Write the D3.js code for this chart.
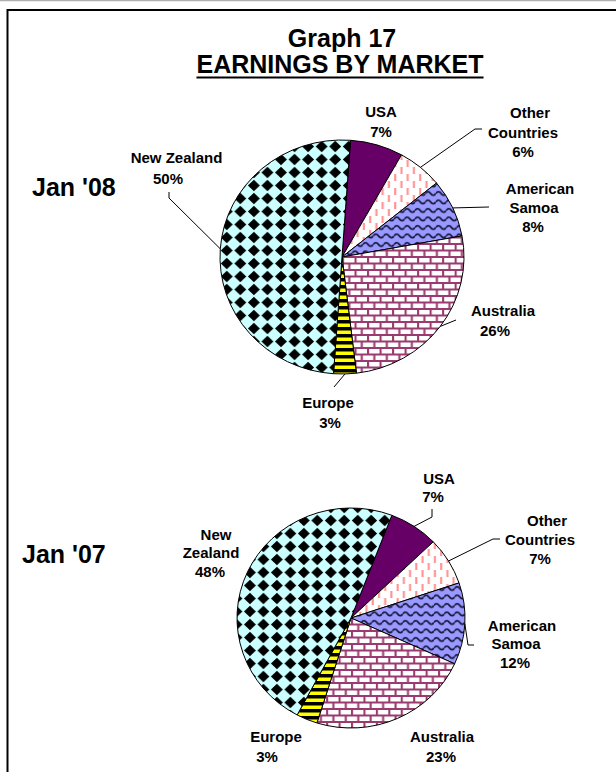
<!DOCTYPE html>
<html>
<head>
<meta charset="utf-8">
<script src="https://cdn.jsdelivr.net/npm/d3@7"></script>
<style>
  html, body { margin: 0; padding: 0; background: #fff; }
  svg { display: block; font-family: "Liberation Sans", Arial, sans-serif; }
  .lbl { font-weight: bold; font-size: 15px; fill: #000; }
</style>
</head>
<body>
<script>
// Market shares of earnings, per period (percent)
const markets = ["USA", "Other Countries", "American Samoa", "Australia", "Europe", "New Zealand"];
const periods = ["Jan '08", "Jan '07"];
const share08 = [7, 6, 8, 26, 3, 50];
const share07 = [7, 7, 12, 23, 3, 48];
const titleLines = ["Graph 17", "EARNINGS BY MARKET"];

const W = 616, H = 772;
const svg = d3.select("body").append("svg").attr("width", W).attr("height", H);
const defs = svg.append("defs");

// ---- fill patterns for each market ----
function pat(id, w, h) {
  return defs.append("pattern").attr("id", id).attr("patternUnits", "userSpaceOnUse")
    .attr("width", w).attr("height", h);
}
// USA: solid purple (no pattern)
// Other Countries: staggered pink dashes
{
  const p = pat("pOther", 12, 14);
  p.append("rect").attr("width", 12).attr("height", 14).attr("fill", "#fff");
  [[3, 1, 8], [9, 8, 15], [9, -6, 1]].forEach(([x, y1, y2]) =>
    p.append("line").attr("x1", x).attr("x2", x).attr("y1", y1).attr("y2", y2)
      .attr("stroke", "#ff8f8f").attr("stroke-width", 2));
}
// American Samoa: periwinkle with dark waves
{
  const p = pat("pSamoa", 10, 8.5);
  p.append("rect").attr("width", 10).attr("height", 8.5).attr("fill", "#9999ff");
  p.append("path").attr("d", "M0,4.5 Q2.5,1 5,4.5 T10,4.5")
    .attr("fill", "none").attr("stroke", "#15153a").attr("stroke-width", 1.8);
}
// Australia: white bricks with mauve mortar
{
  const p = pat("pAus", 12, 13);
  p.append("rect").attr("width", 12).attr("height", 13).attr("fill", "#fff");
  const g = p.append("g").attr("stroke", "#9a3a6e").attr("stroke-width", 2).attr("fill", "none");
  g.append("line").attr("x1", 0).attr("x2", 12).attr("y1", 0).attr("y2", 0);
  g.append("line").attr("x1", 0).attr("x2", 12).attr("y1", 6.5).attr("y2", 6.5);
  g.append("line").attr("x1", 0).attr("x2", 12).attr("y1", 13).attr("y2", 13);
  g.append("line").attr("x1", 1).attr("x2", 1).attr("y1", 0).attr("y2", 6.5);
  g.append("line").attr("x1", 7).attr("x2", 7).attr("y1", 6.5).attr("y2", 13);
}
// Europe: yellow with black horizontal stripes
{
  const p = pat("pEur", 7, 7);
  p.append("rect").attr("width", 7).attr("height", 7).attr("fill", "#ffff00");
  p.append("rect").attr("y", 0).attr("width", 7).attr("height", 3.5).attr("fill", "#000");
}
// New Zealand: light cyan with black diamonds
{
  const p = pat("pNZ", 13, 13);
  p.append("rect").attr("width", 13).attr("height", 13).attr("fill", "#ccffff");
  p.append("polygon").attr("points", "6.5,0.8 12.2,6.5 6.5,12.2 0.8,6.5").attr("fill", "#000");
}

const fills = d3.scaleOrdinal().domain(markets)
  .range(["#660066", "url(#pOther)", "url(#pSamoa)", "url(#pAus)", "url(#pEur)", "url(#pNZ)"]);

// ---- frame ----
svg.append("line").attr("x1", 0).attr("x2", W).attr("y1", 0.5).attr("y2", 0.5)
  .attr("stroke", "#b0b0b0").attr("stroke-width", 1.5);
svg.append("path").attr("d", `M${W},10 H7.5 V${H}`)
  .attr("fill", "none").attr("stroke", "#000").attr("stroke-width", 2);

// ---- title ----
svg.append("text").attr("x", 342).attr("y", 47).attr("text-anchor", "middle")
  .attr("font-weight", "bold").attr("font-size", 25).attr("fill", "#000").text(titleLines[0]);
const t2 = svg.append("text").attr("x", 340).attr("y", 73).attr("text-anchor", "middle")
  .attr("font-weight", "bold").attr("font-size", 25).attr("fill", "#000").text(titleLines[1]);
{
  const len = t2.node().getComputedTextLength();
  svg.append("line").attr("x1", 340 - len / 2).attr("x2", 340 + len / 2)
    .attr("y1", 77.5).attr("y2", 77.5).attr("stroke", "#000").attr("stroke-width", 2.2);
}

// ---- pies ----
const charts = [
  {
    period: periods[0], values: share08, px: 32, py: 196,
    cx: 342, cy: 257, rx: 122, ry: 117, start: 4,
    labels: [
      [["USA", 381, 117], ["7%", 381, 137]],
      [["Other", 530, 118], ["Countries", 523, 137.5], ["6%", 523, 157]],
      [["American", 540, 194], ["Samoa", 534, 213], ["8%", 533, 232]],
      [["Australia", 503, 316], ["26%", 495, 336]],
      [["Europe", 328, 408], ["3%", 330, 428]],
      [["New Zealand", 176.5, 163], ["50%", 168, 184]]
    ],
    leaders: [null, [[475, 129], [482, 129]], [[489, 207]], [[456, 320]], [[334, 387]], [[169, 198], [169, 192]]]
  },
  {
    period: periods[1], values: share07, px: 22, py: 563,
    cx: 351, cy: 618, rx: 114, ry: 110, start: 21,
    labels: [
      [["USA", 439, 484], ["7%", 433, 502]],
      [["Other", 547, 526], ["Countries", 540, 545], ["7%", 540, 564]],
      [["American", 522, 631], ["Samoa", 516, 649], ["12%", 515, 668]],
      [["Australia", 442, 742], ["23%", 441, 762]],
      [["Europe", 276, 742], ["3%", 267, 762]],
      [["New", 216, 540], ["Zealand", 211, 558], ["48%", 210, 577]]
    ],
    leaders: [[[432, 517], [432, 509]], [[493, 539], [500, 539]], [[468, 645], [474, 645]], null, null, null]
  }
];

charts.forEach(c => {
  const a0 = c.start * Math.PI / 180;
  const pie = d3.pie().sort(null).value(d => d.v).startAngle(a0).endAngle(a0 + 2 * Math.PI);
  const arcs = pie(markets.map((m, i) => ({ m, v: c.values[i] })));
  const arc = d3.arc().innerRadius(0).outerRadius(c.ry);

  svg.append("text").attr("x", c.px).attr("y", c.py)
    .attr("font-weight", "bold").attr("font-size", 25).attr("fill", "#000").text(c.period);

  const g = svg.append("g")
    .attr("transform", `translate(${c.cx},${c.cy}) scale(${c.rx / c.ry},1)`);
  g.selectAll("path").data(arcs).join("path")
    .attr("d", arc)
    .attr("fill", d => fills(d.data.m))
    .attr("stroke", "#000").attr("stroke-width", 1)
    .attr("vector-effect", "non-scaling-stroke");

  // leader lines from the slice's outer edge to its label
  arcs.forEach((d, i) => {
    const pts = c.leaders[i];
    if (!pts) return;
    const a = (d.startAngle + d.endAngle) / 2;
    const edge = [c.cx + c.rx * Math.sin(a), c.cy - c.ry * Math.cos(a)];
    svg.append("path").attr("d", d3.line()([edge, ...pts]))
      .attr("fill", "none").attr("stroke", "#000").attr("stroke-width", 1);
  });

  // value labels
  arcs.forEach((d, i) => {
    c.labels[i].forEach(([t, x, y]) => {
      svg.append("text").attr("class", "lbl").attr("x", x).attr("y", y)
        .attr("text-anchor", "middle").text(t);
    });
  });
});
</script>
</body>
</html>
